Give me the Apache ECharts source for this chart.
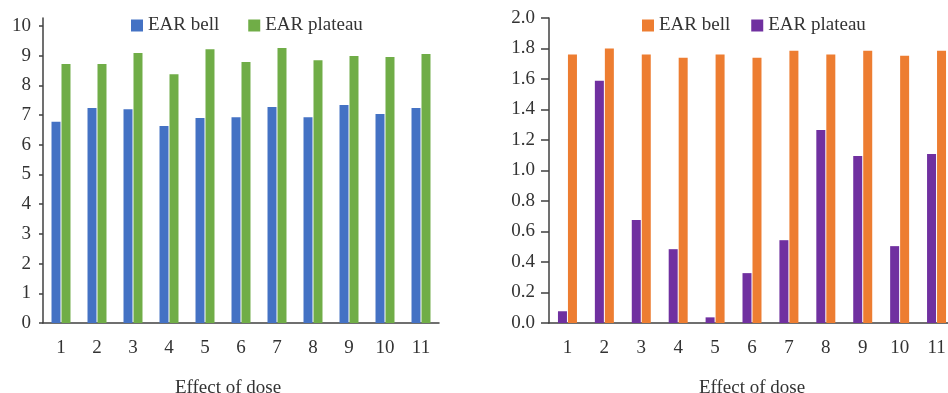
<!DOCTYPE html>
<html><head><meta charset="utf-8">
<script src="https://cdn.jsdelivr.net/npm/echarts@6/dist/echarts.min.js"></script>
<style>html,body{margin:0;padding:0;background:#fff}#c{width:948px;height:393px}</style>
</head><body><div id="c"></div>
<script>
const categories = ['1','2','3','4','5','6','7','8','9','10','11'];
const leftBell = [6.78, 7.24, 7.20, 6.63, 6.90, 6.93, 7.27, 6.93, 7.34, 7.04, 7.24];
const leftPlateau = [8.72, 8.72, 9.09, 8.38, 9.22, 8.79, 9.26, 8.85, 8.99, 8.96, 9.06];
const rightBell = [1.76, 1.80, 1.76, 1.74, 1.76, 1.74, 1.785, 1.76, 1.785, 1.752, 1.785];
const rightPlateau = [0.077, 1.588, 0.675, 0.484, 0.037, 0.327, 0.543, 1.265, 1.095, 0.504, 1.108];
const leftTicks = [0,1,2,3,4,5,6,7,8,9,10];
const xName = 'Effect of dose';

const FONT = '"Liberation Serif", "Times New Roman", serif';
const TXT = '#333333';
const AX = '#404040';
const FS = 19;

const chart = echarts.init(document.getElementById('c'), null, {renderer:'canvas'});
function xAxis(gi, pad){
  return {
    type:'category', gridIndex:gi, data:categories,
    axisLine:{lineStyle:{color:AX,width:1.5}},
    axisTick:{length:10, lineStyle:{color:AX,width:1.5}},
    axisLabel:{color:TXT, fontFamily:FONT, fontSize:FS, margin:16},
    name:xName, nameLocation:'middle', nameGap:56,
    nameTextStyle:{color:TXT, fontFamily:FONT, fontSize:FS, padding:pad}
  };
}
chart.setOption({
  animation:false,
  legend:[
    {data:['EAR bell','EAR plateau'], left:131, top:16, padding:0, itemWidth:12, itemHeight:12, itemGap:29,
     icon:'rect', textStyle:{color:TXT, fontFamily:FONT, fontSize:FS}},
    {data:['EAR bell 2','EAR plateau 2'], left:642, top:16, padding:0, itemWidth:12, itemHeight:12, itemGap:21,
     icon:'rect', formatter: n => n.replace(' 2',''),
     textStyle:{color:TXT, fontFamily:FONT, fontSize:FS}}
  ],
  grid:[
    {left:43, top:18, width:396, height:305, outerBoundsMode:'none', containLabel:false},
    {left:549, top:18, width:406, height:305, outerBoundsMode:'none', containLabel:false}
  ],
  xAxis:[xAxis(0,[0,26,0,0]), xAxis(1,[0,0,0,0])],
  yAxis:[
    {type:'value', gridIndex:0, min:0, max:10.27,
     axisLine:{show:true, lineStyle:{color:AX,width:1.5}},
     axisTick:{show:true, length:4, customValues:leftTicks, lineStyle:{color:AX,width:1.5}},
     axisLabel:{color:TXT, fontFamily:FONT, fontSize:FS, margin:12, customValues:leftTicks},
     splitLine:{show:false}},
    {type:'value', gridIndex:1, min:0, max:2, interval:0.2,
     axisLine:{show:true, lineStyle:{color:AX,width:1.5}},
     axisTick:{show:true, length:8, lineStyle:{color:AX,width:1.5}},
     axisLabel:{color:TXT, fontFamily:FONT, fontSize:FS, margin:14, formatter:v=>v.toFixed(1)},
     splitLine:{show:false}}
  ],
  series:[
    {name:'EAR bell', type:'bar', xAxisIndex:0, yAxisIndex:0, data:leftBell, barWidth:9, barGap:'11%', itemStyle:{color:'#4472C4'}},
    {name:'EAR plateau', type:'bar', xAxisIndex:0, yAxisIndex:0, data:leftPlateau, barWidth:9, barGap:'11%', itemStyle:{color:'#70AD47'}},
    {name:'EAR plateau 2', type:'bar', xAxisIndex:1, yAxisIndex:1, data:rightPlateau, barWidth:9, barGap:'11%', itemStyle:{color:'#7030A0'}},
    {name:'EAR bell 2', type:'bar', xAxisIndex:1, yAxisIndex:1, data:rightBell, barWidth:9, barGap:'11%', itemStyle:{color:'#ED7D31'}}
  ]
});
</script></body></html>
